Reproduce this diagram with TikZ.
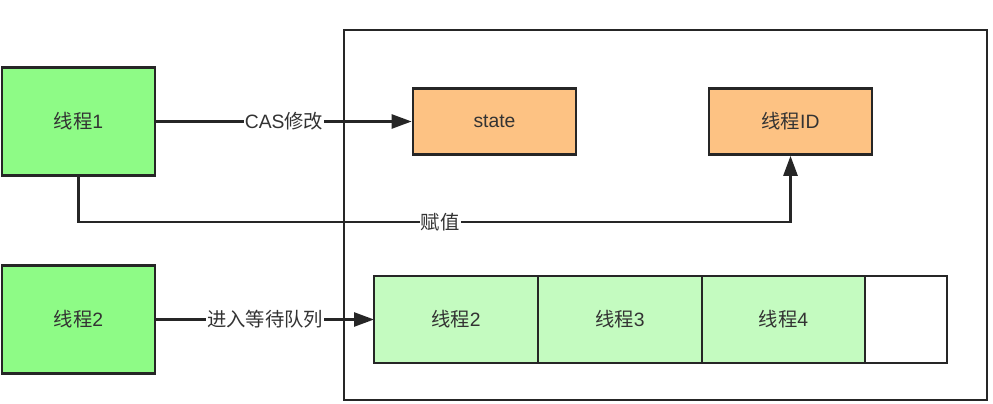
\documentclass[tikz,border=0pt]{standalone}
\usepackage{fontspec}
\setmainfont{Liberation Sans}
\newfontfamily\cjk{Noto Sans CJK SC}
\usepackage{tikz}
\usetikzlibrary{arrows.meta}
\usetikzlibrary{positioning}

\definecolor{threadgreen}{HTML}{8EFB86}
\definecolor{queuegreen}{HTML}{C4FBC0}
\definecolor{fieldorange}{HTML}{FDC283}
\definecolor{textgray}{HTML}{333333}

\begin{document}
\begin{tikzpicture}[x=0.03cm,y=-0.03cm,line width=0.08cm,
			thread/.style={rectangle,draw=black!85,fill=threadgreen,
				minimum width=4.59cm,minimum height=3.23cm},
			field/.style={rectangle,draw=black!85,fill=fieldorange,
				minimum width=4.89cm,minimum height=1.98cm},
			cell/.style={rectangle,draw=black!85,fill=queuegreen,outer sep=0pt,
				minimum width=4.92cm,minimum height=2.61cm,anchor=west},
			arr/.style={draw=black!85,-{Triangle[length=0.6cm,width=0.42cm]}},
			lbl/.style={fill=white,inner sep=1pt,text=textgray},
			every node/.style={font=\fontsize{16.5}{19}\selectfont,text=textgray}]
			
			\useasboundingbox (0,0) rectangle (993,404);
			\node[rectangle,draw=black!85,minimum width=19.29cm,
				minimum height=11.1cm] (lock) at (665.5,215) {};
			
			\node[thread] (t1) at (78.5,121.5) {{\cjk 线程}1};
			\node[thread] (t2) at (78.5,319.5) {{\cjk 线程}2};
			\node[field] (state) at (494.5,121.5) {state};
			\node[field] (tid) at (790.5,121.5) {{\cjk 线程}ID};
			
			\node[cell] (q2) at (374,319.5) {{\cjk 线程}2};
			\node[cell] (q3) [right=0pt of q2] {{\cjk 线程}3};
			\node[cell,minimum width=4.89cm] (q4) [right=0pt of q3] {{\cjk 线程}4};
			\node[cell,fill=white,minimum width=2.46cm] (q5) [right=0pt of q4] {};
			
			\coordinate (turn) at (790.5,222);
			\draw[arr] (t1) -- node[lbl] {CAS{\cjk 修改}} (state);
			\draw[arr] (t1) |- node[lbl,pos=0.754] {\cjk 赋值} (turn) -- (tid);
			\draw[arr] (t2) -- node[lbl] {\cjk 进入等待队列} (q2);
		\end{tikzpicture}
\end{document}
